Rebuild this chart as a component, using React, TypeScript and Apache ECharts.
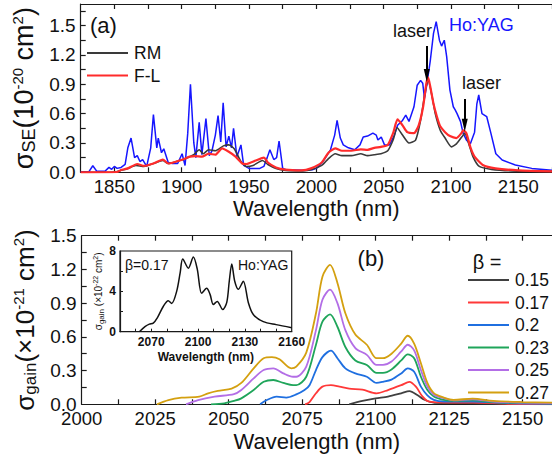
import React, { useEffect, useRef } from 'react';
import * as echarts from 'echarts';

const FONT = "'Liberation Sans', Arial, Helvetica, sans-serif";

// ---------- panel (a): stimulated emission cross-section ----------
const rmData = [[1825,0],[1850,0.003],[1855,0.02],[1860,0.04],[1866,0.07],[1872,0.06],[1879,0.09],[1886,0.12],[1890,0.09],[1896,0.11],[1901,0.13],[1906,0.16],[1909,0.18],[1913,0.23],[1916,0.19],[1920,0.23],[1925,0.22],[1931,0.27],[1935,0.28],[1939,0.24],[1944,0.11],[1948,0.06],[1953,0.07],[1960,0.12],[1964,0.08],[1970,0.04],[1977,0.02],[1990,0.015],[1996,0.025],[2004,0.07],[2009,0.14],[2014,0.19],[2019,0.17],[2026,0.17],[2033,0.19],[2038,0.17],[2043,0.18],[2048,0.19],[2053,0.22],[2057,0.33],[2060,0.455],[2064,0.38],[2068.8,0.30],[2073.7,0.33],[2077.4,0.53],[2081,0.84],[2083,0.94],[2086,0.77],[2088.3,0.60],[2092,0.43],[2095.6,0.35],[2100.4,0.26],[2104,0.29],[2109,0.38],[2110.2,0.40],[2113,0.30],[2116.3,0.16],[2121,0.06],[2130,0.03],[2145,0.015],[2175,0.01]];
const flData = [[1825,0],[1852,0.003],[1855,0.023],[1860,0.04],[1867,0.085],[1872,0.065],[1879,0.09],[1886,0.13],[1890,0.09],[1896,0.11],[1901,0.13],[1906,0.16],[1910,0.165],[1915,0.16],[1920,0.19],[1925,0.18],[1930,0.245],[1935,0.21],[1940,0.16],[1945,0.09],[1948,0.085],[1955,0.12],[1961,0.15],[1964,0.1],[1970,0.05],[1977,0.027],[1989,0.02],[1996,0.04],[2004,0.1],[2009,0.2],[2014,0.245],[2019,0.22],[2026,0.22],[2033,0.235],[2038,0.23],[2043,0.25],[2048,0.26],[2053,0.28],[2057,0.4],[2060.3,0.54],[2064,0.48],[2067.6,0.41],[2072.5,0.40],[2076,0.48],[2079.3,0.67],[2081.7,0.91],[2083,0.97],[2084.7,0.87],[2087,0.70],[2089.5,0.57],[2092,0.47],[2095.6,0.41],[2099.2,0.37],[2104,0.35],[2107.7,0.40],[2109,0.43],[2111.4,0.40],[2114.3,0.26],[2117.5,0.16],[2123.6,0.075],[2133,0.04],[2150,0.02],[2175,0.01]];
const hoyagData = [[1825,0.005],[1831,0.005],[1834,0.067],[1837,0.01],[1843,0.01],[1846,0.05],[1848,0.03],[1850,0.06],[1852,0.04],[1855,0.05],[1858,0.08],[1860,0.25],[1862.4,0.35],[1865,0.15],[1867,0.17],[1869,0.11],[1871,0.13],[1874,0.06],[1877,0.25],[1879,0.59],[1881.5,0.25],[1882.6,0.35],[1885,0.2],[1886.7,0.24],[1890,0.1],[1893,0.09],[1897,0.09],[1900.3,0.19],[1902.5,0.07],[1904.5,0.4],[1906.5,0.9],[1909,0.3],[1910.5,0.15],[1913,0.51],[1915,0.18],[1918,0.55],[1920.5,0.17],[1922.5,0.22],[1925,0.38],[1927,0.58],[1929,0.31],[1930.8,0.71],[1933,0.26],[1935,0.37],[1937,0.25],[1938.5,0.45],[1941,0.16],[1944,0.28],[1946,0.07],[1950,0.04],[1958,0.04],[1961,0.06],[1963.5,0.15],[1965.5,0.23],[1968.4,0.13],[1970.5,0.15],[1972.3,0.32],[1975,0.04],[1978,0.025],[1990,0.02],[1997,0.025],[2000,0.04],[2004.4,0.1],[2010.5,0.23],[2013.6,0.38],[2015.4,0.53],[2017.8,0.35],[2020,0.28],[2023.8,0.25],[2028.5,0.23],[2032.4,0.28],[2034.8,0.36],[2038,0.37],[2042,0.40],[2044.5,0.38],[2045.7,0.33],[2048.2,0.36],[2050.6,0.28],[2054.3,0.28],[2058,0.38],[2060.3,0.48],[2064,0.53],[2066.4,0.585],[2068.8,0.52],[2072.5,0.67],[2074.9,0.89],[2077.4,0.94],[2079,0.91],[2080.3,0.755],[2082.2,0.91],[2084.7,1.15],[2087,1.42],[2089,1.54],[2091.4,1.35],[2093,1.29],[2095,1.35],[2096.8,1.18],[2099.2,0.84],[2101.7,0.67],[2103,0.64],[2104.5,0.6],[2107,0.52],[2109,0.40],[2111.4,0.33],[2114.3,0.29],[2117.5,0.41],[2119.2,0.70],[2120.6,0.79],[2123,0.60],[2126.5,0.57],[2129.6,0.40],[2133.3,0.19],[2138,0.125],[2147.8,0.075],[2160,0.04],[2175,0.02]];
const laserArrows = [[2082, 1.29, 0.99], [2110.2, 0.75, 0.48]];
const topXLabels = [1850, 1900, 1950, 2000, 2050, 2100, 2150];
const topXTicks = [1850, 1875, 1900, 1925, 1950, 1975, 2000, 2025, 2050, 2075, 2100, 2125, 2150, 2175];
const topYLabels = [0, 0.3, 0.6, 0.9, 1.2, 1.5];
const topYTicks = [0.15, 0.3, 0.45, 0.6, 0.75, 0.9, 1.05, 1.2, 1.35, 1.5, 1.65];

// ---------- panel (b): gain cross-section ----------
const betaLabels = ['0.15', '0.17', '0.2', '0.23', '0.25', '0.27'];
const betaColors = ['#404040', '#ff3838', '#1f6fe0', '#1fa55a', '#b36ee6', '#d4a010'];
const gain015 = [[2091,0],[2095.5,0.03],[2100,0.053],[2104.2,0.068],[2108.7,0.098],[2111.5,0.118],[2114.3,0.08],[2116.6,0.04],[2120,0.013],[2130,0.01],[2145,0.003],[2160,0]];
const gain017 = [[2076,0],[2077.5,0.02],[2079.7,0.098],[2081.9,0.157],[2084.8,0.17],[2087.7,0.157],[2091,0.14],[2095.5,0.13],[2100.3,0.098],[2104.2,0.127],[2108.7,0.17],[2111.5,0.20],[2113.7,0.157],[2115.9,0.07],[2118,0.025],[2123,0.015],[2133,0.015],[2145,0.005],[2160,0.002]];
const gain020 = [[2060.7,0],[2063,0.038],[2066.3,0.068],[2069.6,0.06],[2073,0.088],[2075.8,0.127],[2077.5,0.17],[2079.7,0.305],[2081.9,0.42],[2084.8,0.477],[2087,0.41],[2089.7,0.32],[2093.1,0.275],[2097,0.245],[2100.3,0.19],[2102.5,0.20],[2105.4,0.22],[2108.7,0.275],[2110.9,0.32],[2113.1,0.29],[2115.4,0.157],[2117.6,0.08],[2119.8,0.04],[2123.2,0.025],[2133,0.025],[2145,0.01],[2160,0.005]];
const gain023 = [[2044,0],[2048.5,0.009],[2051.8,0.03],[2054.3,0.053],[2058.5,0.127],[2061.9,0.20],[2065.2,0.216],[2068.6,0.19],[2071.9,0.17],[2073,0.17],[2076.4,0.245],[2079.7,0.53],[2081.9,0.735],[2084.5,0.80],[2087,0.69],[2089.7,0.51],[2093.1,0.39],[2097,0.35],[2100.3,0.28],[2102.5,0.28],[2105.4,0.31],[2108.7,0.39],[2110.9,0.445],[2113.1,0.41],[2115.4,0.245],[2117.6,0.127],[2119.8,0.07],[2123.2,0.04],[2126.5,0.03],[2133,0.035],[2140,0.02],[2150,0.012],[2160,0.008]];
const gain025 = [[2035.5,0],[2039.6,0.038],[2045.2,0.068],[2051.8,0.09],[2054.3,0.127],[2058.5,0.23],[2061.9,0.305],[2065.2,0.32],[2068.6,0.275],[2071.9,0.245],[2073,0.245],[2076.4,0.335],[2079.7,0.66],[2081.9,0.93],[2084.5,1.02],[2087,0.90],[2089.7,0.66],[2093.1,0.50],[2097,0.44],[2100.3,0.35],[2102.5,0.35],[2105.4,0.38],[2108.7,0.47],[2110.9,0.53],[2113.1,0.48],[2115.4,0.305],[2117.6,0.157],[2119.8,0.085],[2123.2,0.055],[2126.5,0.035],[2133,0.045],[2140,0.025],[2150,0.015],[2160,0.01]];
const gain027 = [[2025.6,0],[2029.5,0.038],[2034,0.059],[2040,0.068],[2043,0.098],[2046.3,0.12],[2051,0.14],[2054.3,0.19],[2058.5,0.32],[2061.9,0.41],[2064.7,0.42],[2067.3,0.40],[2071.3,0.32],[2073,0.335],[2076.4,0.46],[2079.7,0.81],[2081.9,1.135],[2084.5,1.24],[2087,1.08],[2089.7,0.81],[2093.1,0.62],[2097,0.53],[2100.3,0.41],[2102.5,0.41],[2105.4,0.45],[2108.7,0.54],[2110.9,0.61],[2113.1,0.54],[2115.4,0.365],[2117.6,0.19],[2119.8,0.10],[2123.2,0.06],[2126.5,0.04],[2133,0.05],[2140,0.03],[2150,0.02],[2160,0.015]];
const gainSeries = [gain015, gain017, gain020, gain023, gain025, gain027];
const botXLabels = [2000, 2025, 2050, 2075, 2100, 2125, 2150];
const botXTicks = [2012.5, 2025, 2037.5, 2050, 2062.5, 2075, 2087.5, 2100, 2112.5, 2125, 2137.5, 2150];
const botYLabels = [0, 0.3, 0.6, 0.9, 1.2, 1.5];
const botYTicks = [0.15, 0.3, 0.45, 0.6, 0.75, 0.9, 1.05, 1.2, 1.35];

// ---------- inset: Ho:YAG, beta = 0.17 ----------
const insetData = [[2062.4,0],[2066,0.5],[2068.8,0.75],[2071.3,0.85],[2074,1.4],[2077.7,2.5],[2080.9,3.07],[2083.1,2.8],[2086.3,4.0],[2088.5,5.8],[2090.2,7.2],[2093.8,6.3],[2097,7.4],[2099.5,6.2],[2102.3,3.8],[2105.5,4.3],[2107.7,3.7],[2109.8,2.7],[2112.3,3.0],[2115.8,2.2],[2118.4,2.9],[2120,5.0],[2121.6,6.7],[2123.5,5.0],[2125.8,4.2],[2129,5.0],[2132.2,2.9],[2135.4,1.7],[2141.8,1.0],[2150,0.7],[2160,0.4]];
const insetXLabels = [2070, 2100, 2130, 2160];
const insetXTicks = [2060, 2070, 2080, 2090, 2100, 2110, 2120, 2130, 2140, 2150];
const insetYLabels = [0, 4, 8];
const insetYTicks = [2, 4, 6];

const AX = '#1a1a1a';
const plain = (v: number) => String(v);

function xAx(gridIndex: number, min: number, max: number, labels: number[] | null, ticks: number[], pos: 'top' | 'bottom', extra: any = {}) {
  return {
    type: 'value', gridIndex, min, max, position: pos,
    axisLine: { show: true, onZero: false, lineStyle: { color: AX, width: 1.2 } },
    axisTick: { show: true, inside: true, length: 5, customValues: ticks, lineStyle: { color: AX, width: 1.2 } },
    axisLabel: labels ? { show: true, customValues: labels, color: '#111', fontSize: 18.5, lineHeight: 15, fontFamily: FONT, margin: 7, formatter: plain } : { show: false },
    splitLine: { show: false },
    ...extra,
  };
}

function yAx(gridIndex: number, min: number, max: number, labels: number[], ticks: number[], extra: any = {}) {
  return {
    type: 'value', gridIndex, min, max,
    axisLine: { show: true, lineStyle: { color: AX, width: 1.2 } },
    axisTick: { show: true, inside: true, length: 5, customValues: ticks, lineStyle: { color: AX, width: 1.2 } },
    axisLabel: { show: true, customValues: labels, color: '#111', fontSize: 19, lineHeight: 13, fontFamily: FONT, margin: 5, formatter: (v: number) => v.toFixed(1) },
    splitLine: { show: false },
    ...extra,
  };
}

function richName(a: number, b: number, c: number, lh: number) {
  return {
    color: '#111',
    rich: {
      a: { fontSize: a, fontFamily: FONT, color: '#111', lineHeight: lh, verticalAlign: 'middle' },
      b: { fontSize: b, fontFamily: FONT, color: '#111', verticalAlign: 'bottom' },
      c: { fontSize: c, fontFamily: FONT, color: '#111', verticalAlign: 'top' },
    },
  };
}

function lineSeries(name: string, data: number[][], color: string, width: number, xi: number, yi: number, smooth: number | boolean, extra: any = {}) {
  return {
    type: 'line', name, data, xAxisIndex: xi, yAxisIndex: yi,
    showSymbol: false, symbol: 'none', smooth,
    lineStyle: { color, width }, itemStyle: { color },
    clip: true, silent: true,
    ...extra,
  };
}

export default function App() {
  const ref = useRef<HTMLDivElement>(null);
  useEffect(() => {
    if (!ref.current) return;
    const chart = echarts.init(ref.current, null, { renderer: 'svg' });
    const txt = (text: string, x: number, y: number, size: number, color = '#111', align = 'left', weight = 'normal') => ({
      type: 'text', x, y, z: 100,
      style: { text, fontSize: size, fontFamily: FONT, fill: color, align, verticalAlign: 'middle', fontWeight: weight },
    });
    const legendBase = {
      orient: 'vertical', selectedMode: false, icon: 'rect', padding: 0,
      itemWidth: 41, itemHeight: 2.2, itemGap: 4.5,
      textStyle: { fontSize: 17.5, fontFamily: FONT, color: '#111', padding: [0, 0, 0, 1] },
    };
    const option: any = {
      animation: false,
      backgroundColor: '#fff',
      textStyle: { fontFamily: FONT },
      grid: [
        { left: 80.7, top: 4, width: 480, height: 168.3 },
        { left: 81.7, top: 235.7, width: 478.4, height: 168.6 },
        { left: 120, top: 251, width: 171.7, height: 80.7, show: true, backgroundColor: '#fff', borderColor: AX, borderWidth: 1.2, z: 5 },
      ],
      xAxis: [
        xAx(0, 1825, 2175, topXLabels, topXTicks, 'bottom', {
          name: 'Wavelength (nm)', nameLocation: 'middle', nameGap: 24,
          nameTextStyle: { fontSize: 22, fontFamily: FONT, color: '#111' },
        }),
        xAx(0, 1825, 2175, null, topXTicks, 'top'),
        xAx(1, 2000, 2160, botXLabels, botXTicks, 'bottom', {
          name: 'Wavelength (nm)', nameLocation: 'middle', nameGap: 26,
          nameTextStyle: { fontSize: 22, fontFamily: FONT, color: '#111' },
        }),
        xAx(1, 2000, 2160, null, botXTicks, 'top'),
        {
          type: 'value', gridIndex: 2, min: 2050, max: 2160, z: 6,
          axisLine: { show: true, onZero: false, lineStyle: { color: AX, width: 1.2 } },
          axisTick: { show: true, inside: true, length: 3, customValues: insetXTicks, lineStyle: { color: AX } },
          axisLabel: { show: true, customValues: insetXLabels, color: '#111', fontSize: 12, fontWeight: 'bold', fontFamily: FONT, margin: 4, formatter: plain },
          splitLine: { show: false },
          name: 'Wavelength (nm)', nameLocation: 'middle', nameGap: 19,
          nameTextStyle: { fontSize: 12, fontWeight: 'bold', fontFamily: FONT, color: '#111' },
        },
      ],
      yAxis: [
        yAx(0, 0, 1.72, topYLabels, topYTicks, {
          name: '{a|σ}{b|SE}{a|(10}{c|-20}{a| cm}{c|2}{a|)}',
          nameLocation: 'middle', nameRotate: 90, nameGap: 41,
          nameTextStyle: richName(27, 18, 15, 28),
        }),
        yAx(1, 0, 1.5, botYLabels, botYTicks, {
          name: '{a|σ}{b|gain}{a|(×10}{c|-21}{a| cm}{c|2}{a|)}',
          nameLocation: 'middle', nameRotate: 90, nameGap: 40,
          nameTextStyle: richName(26, 17, 15, 28),
        }),
        {
          type: 'value', gridIndex: 2, min: 0, max: 8, z: 6,
          axisLine: { show: true, lineStyle: { color: AX, width: 1.2 } },
          axisTick: { show: true, inside: true, length: 3, customValues: insetYTicks, lineStyle: { color: AX } },
          axisLabel: { show: true, customValues: insetYLabels, color: '#111', fontSize: 12, fontWeight: 'bold', fontFamily: FONT, margin: 4, formatter: plain },
          splitLine: { show: false },
          name: '{a|σ}{b|gain}{a| (×10}{c|-22}{a| cm}{c|2}{a|)}',
          nameLocation: 'middle', nameRotate: 90, nameGap: 14,
          nameTextStyle: richName(10, 8, 7, 13),
        },
      ],
      legend: [
        { ...legendBase, data: ['RM', 'F-L'], left: 87, top: 44 },
        { ...legendBase, data: betaLabels, left: 468, top: 271 },
      ],
      series: [
        lineSeries('Ho:YAG', hoyagData, '#1616ff', 1.5, 0, 0, false),
        lineSeries('RM', rmData, '#3a3a3a', 1.6, 0, 0, 0.2, {
          markLine: {
            silent: true, symbol: ['none', 'triangle'], symbolSize: [6, 13],
            label: { show: false },
            lineStyle: { color: '#000', width: 2, type: 'solid' },
            emphasis: { disabled: true },
            data: laserArrows.map((a) => [{ coord: [a[0], a[1]] }, { coord: [a[0], a[2]] }]),
          },
        }),
        lineSeries('F-L', flData, '#ff2b2b', 2.2, 0, 0, 0.2),
        ...gainSeries.map((d, i) => lineSeries(betaLabels[i], d, betaColors[i], 1.8, 2, 1, 0.3)),
        lineSeries('inset', insetData, '#111', 1.5, 4, 2, 0.3, { z: 7 }),
      ],
      graphic: [
        txt('(a)', 90, 25, 22),
        txt('laser', 393, 31, 18),
        txt('Ho:YAG', 449, 25, 18, '#1616ff'),
        txt('laser', 462, 83, 18),
        txt('(b)', 371, 258, 22, '#111', 'center'),
        txt('β =', 487, 262, 20, '#111', 'center'),
        txt('β=0.17', 125, 265, 14),
        txt('Ho:YAG', 238, 265, 14),
      ],
    };
    chart.setOption(option);
    return () => chart.dispose();
  }, []);
  return <div ref={ref} style={{ position: 'absolute', left: 0, top: 0, width: 552, height: 457 }} />;
}
